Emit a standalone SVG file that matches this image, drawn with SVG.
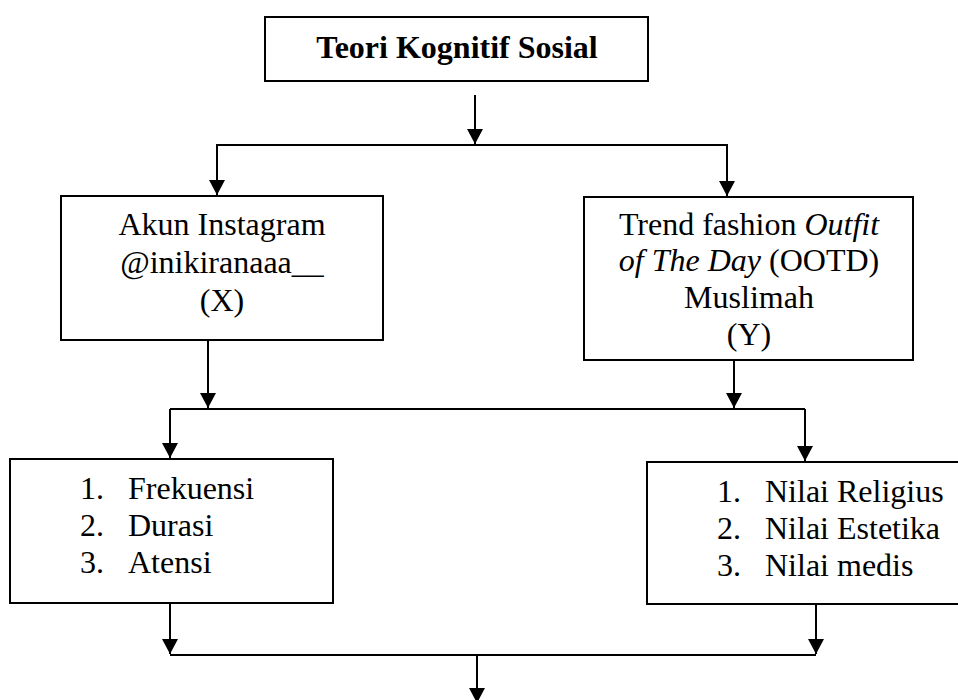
<svg xmlns="http://www.w3.org/2000/svg" width="958" height="700" viewBox="0 0 958 700">
<style>
.box{fill:#fff;stroke:#000;stroke-width:2}
.t{font-family:'Liberation Serif','Times New Roman',Tinos,'DejaVu Serif',serif;font-size:32px;fill:#000}
.c{text-anchor:middle}
.b{font-weight:bold}
.i{font-style:italic}
.ln{fill:none;stroke:#000;stroke-width:2}
</style>
<defs>
<marker id="ah" markerUnits="userSpaceOnUse" markerWidth="16" markerHeight="16" refX="15" refY="8" orient="auto">
<path d="M0,0 L15,8 L0,16 Z" fill="#000"/>
</marker>
</defs>
<rect width="958" height="700" fill="#fff"/>
<g id="connectors">
<path class="ln" d="M475,95 V144" marker-end="url(#ah)"/>
<path class="ln" d="M475,145 H217 V195" marker-end="url(#ah)"/>
<path class="ln" d="M475,145 H727 V196" marker-end="url(#ah)"/>
<path class="ln" d="M208,340 V408" marker-end="url(#ah)"/>
<path class="ln" d="M734,360 V408" marker-end="url(#ah)"/>
<path class="ln" d="M170,409 H805"/>
<path class="ln" d="M170,409 V458" marker-end="url(#ah)"/>
<path class="ln" d="M805,409 V461" marker-end="url(#ah)"/>
<path class="ln" d="M170,603 V654" marker-end="url(#ah)"/>
<path class="ln" d="M816,604 V654" marker-end="url(#ah)"/>
<path class="ln" d="M170,655 H816"/>
<path class="ln" d="M477,655 V703" marker-end="url(#ah)"/>
</g>
<g id="teori">
<rect class="box" x="265" y="17" width="383" height="64"/>
<text class="t c b" x="457" y="58" font-family="Liberation Serif, serif">Teori Kognitif Sosial</text>
</g>
<g id="akun">
<rect class="box" x="61" y="196" width="322" height="144"/>
<text class="t c" x="222" y="235">Akun Instagram</text>
<text class="t c" x="222" y="273">@inikiranaaa__</text>
<text class="t c" x="222" y="311">(X)</text>
</g>
<g id="trend">
<rect class="box" x="584" y="197" width="329" height="163"/>
<text class="t c" x="749" y="235">Trend fashion <tspan class="i">Outfit</tspan></text>
<text class="t c" x="749" y="271"><tspan class="i">of The Day</tspan> (OOTD)</text>
<text class="t c" x="749" y="308">Muslimah</text>
<text class="t c" x="749" y="345">(Y)</text>
</g>
<g id="indikator-x">
<rect class="box" x="10" y="459" width="323" height="144"/>
<text class="t" x="80" y="499">1.</text><text class="t" x="128" y="499">Frekuensi</text>
<text class="t" x="80" y="536">2.</text><text class="t" x="128" y="536">Durasi</text>
<text class="t" x="80" y="573">3.</text><text class="t" x="128" y="573">Atensi</text>
</g>
<g id="indikator-y">
<rect class="box" x="647" y="462" width="320" height="142"/>
<text class="t" x="717" y="502">1.</text><text class="t" x="765" y="502">Nilai Religius</text>
<text class="t" x="717" y="539">2.</text><text class="t" x="765" y="539">Nilai Estetika</text>
<text class="t" x="717" y="576">3.</text><text class="t" x="765" y="576">Nilai medis</text>
</g>
</svg>
